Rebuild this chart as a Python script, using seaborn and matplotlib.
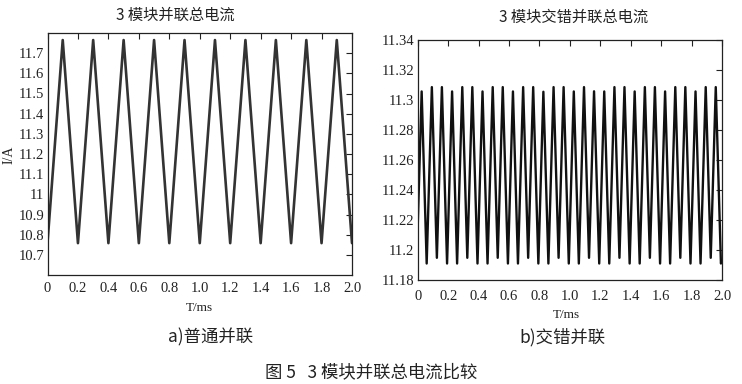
import numpy as np
import pandas as pd
import matplotlib
matplotlib.use('Agg')
import matplotlib.pyplot as plt
import seaborn as sns

# ── data ─────────────────────────────────────────────────────────────────────
# (a) ordinary parallel: triangle vertices, period 0.2 ms
t_normal = [0.0, 0.1, 0.2, 0.3, 0.4, 0.5, 0.6, 0.7, 0.8, 0.9, 1.0,
            1.1, 1.2, 1.3, 1.4, 1.5, 1.6, 1.7, 1.8, 1.9, 2.0]
i_normal = [10.76, 11.765, 10.758, 11.765, 10.758, 11.765, 10.758, 11.765,
            10.758, 11.765, 10.758, 11.765, 10.758, 11.765, 10.758, 11.765,
            10.758, 11.765, 10.758, 11.765, 10.758]

# (b) interleaved parallel: peaks / troughs, period ~0.0667 ms
t_peak = [0.026, 0.093, 0.159, 0.226, 0.293, 0.359, 0.426, 0.493, 0.559, 0.626,
          0.693, 0.759, 0.826, 0.893, 0.959, 1.026, 1.093, 1.159, 1.226, 1.293,
          1.359, 1.426, 1.493, 1.559, 1.626, 1.693, 1.759, 1.826, 1.893, 1.959]
i_peak = [11.3057, 11.3086, 11.3086, 11.3057, 11.3086, 11.3086, 11.3057, 11.3086,
          11.3086, 11.3057, 11.3086, 11.3086, 11.3055, 11.3086, 11.3086, 11.3057,
          11.3086, 11.3058, 11.3057, 11.3086, 11.3086, 11.3057, 11.3086, 11.3086,
          11.3057, 11.3086, 11.3086, 11.3057, 11.3086, 11.3086]
t_trough = [0.059, 0.126, 0.193, 0.259, 0.326, 0.393, 0.459, 0.526, 0.593, 0.659,
            0.726, 0.793, 0.859, 0.926, 0.993, 1.059, 1.126, 1.193, 1.259, 1.326,
            1.393, 1.459, 1.526, 1.593, 1.659, 1.726, 1.793, 1.859, 1.926, 1.993]
i_trough = [11.191, 11.1948, 11.191, 11.191, 11.1948, 11.191, 11.191, 11.1948,
            11.191, 11.191, 11.1948, 11.191, 11.191, 11.1948, 11.191, 11.191,
            11.1948, 11.191, 11.191, 11.1948, 11.191, 11.191, 11.1948, 11.191,
            11.191, 11.1948, 11.191, 11.191, 11.1948, 11.191]
t_ends = [0.0, 2.0]
i_ends = [11.215, 11.193]

xticks = [0, 0.2, 0.4, 0.6, 0.8, 1.0, 1.2, 1.4, 1.6, 1.8, 2.0]
xticklabels = ['0', '0.2', '0.4', '0.6', '0.8', '1.0', '1.2', '1.4', '1.6', '1.8', '2.0']
yticks_a = [10.7, 10.8, 10.9, 11.0, 11.1, 11.2, 11.3, 11.4, 11.5, 11.6, 11.7]
yticklabels_a = ['10.7', '10.8', '10.9', '11', '11.1', '11.2', '11.3', '11.4', '11.5', '11.6', '11.7']
yticks_b = [11.18, 11.20, 11.22, 11.24, 11.26, 11.28, 11.30, 11.32, 11.34]
yticklabels_b = ['11.18', '11.2', '11.22', '11.24', '11.26', '11.28', '11.3', '11.32', '11.34']

# build vertex tables
df_a = pd.DataFrame({'t': t_normal, 'i': i_normal})
df_b = pd.DataFrame({'t': t_peak + t_trough + t_ends,
                     'i': i_peak + i_trough + i_ends}).sort_values('t')

# ── style ────────────────────────────────────────────────────────────────────
sns.set_style('white')
CJK = ['Noto Sans CJK SC', 'DejaVu Sans']
SERIF = ['Liberation Serif', 'DejaVu Serif']
plt.rcParams['font.family'] = SERIF

fig = plt.figure(figsize=(7.42, 3.84), dpi=100, facecolor='white')
W, H = 742, 384

def px_axes(x0, x1, ytop, ybot):
    return fig.add_axes([x0 / W, 1 - ybot / H, (x1 - x0) / W, (ybot - ytop) / H])

def style_axes(ax, xpad, ypad):
    for s in ax.spines.values():
        s.set_color('#222222'); s.set_linewidth(0.9); s.set_visible(True)
    ax.tick_params(direction='in', length=4, width=0.8, colors='#222222',
                   top=True, right=True, labelsize=10.5)
    ax.tick_params(axis='x', pad=xpad)
    ax.tick_params(axis='y', pad=ypad)

ax1 = px_axes(47.5, 352, 33, 275)
sns.lineplot(data=df_a, x='t', y='i', ax=ax1, color='#333333', linewidth=1.9,
             estimator=None, sort=False)
ax1.set_xlim(0, 2.0); ax1.set_ylim(10.6, 11.8)
ax1.set_xticks(xticks); ax1.set_xticklabels(xticklabels)
ax1.set_yticks(yticks_a); ax1.set_yticklabels(yticklabels_a)
ax1.set_xlabel(''); ax1.set_ylabel('')
style_axes(ax1, 5, 2.5)

ax2 = px_axes(417.7, 722, 40, 280)
sns.lineplot(data=df_b, x='t', y='i', ax=ax2, color='#111111', linewidth=1.7,
             estimator=None, sort=False)
ax2.set_xlim(0, 2.0); ax2.set_ylim(11.18, 11.34)
ax2.set_xticks(xticks); ax2.set_xticklabels(xticklabels)
ax2.set_yticks(yticks_b); ax2.set_yticklabels(yticklabels_b)
ax2.set_xlabel(''); ax2.set_ylabel('')
style_axes(ax2, 7.5, 2.5)

# ── text ─────────────────────────────────────────────────────────────────────
def ftext(x, y, s, fam, size, **kw):
    fig.text(x / W, 1 - y / H, s, family=fam, fontsize=size, color='#222222',
             ha='center', va='center', **kw)

ftext(175, 15, '3 模块并联总电流', CJK, 11)
ftext(574, 17, '3 模块交错并联总电流', CJK, 11)
ftext(9, 155, 'I/A', SERIF, 10, rotation=90)
ftext(199, 308, 'T/ms', SERIF, 9.5)
ftext(566, 315, 'T/ms', SERIF, 9.5)
ftext(211, 337, 'a)普通并联', CJK, 12.5)
ftext(562, 337, 'b)交错并联', CJK, 12.5)
ftext(371, 372, '图 5   3 模块并联总电流比较', CJK, 12.5)

fig.savefig('out.png', dpi=100, facecolor='white')
